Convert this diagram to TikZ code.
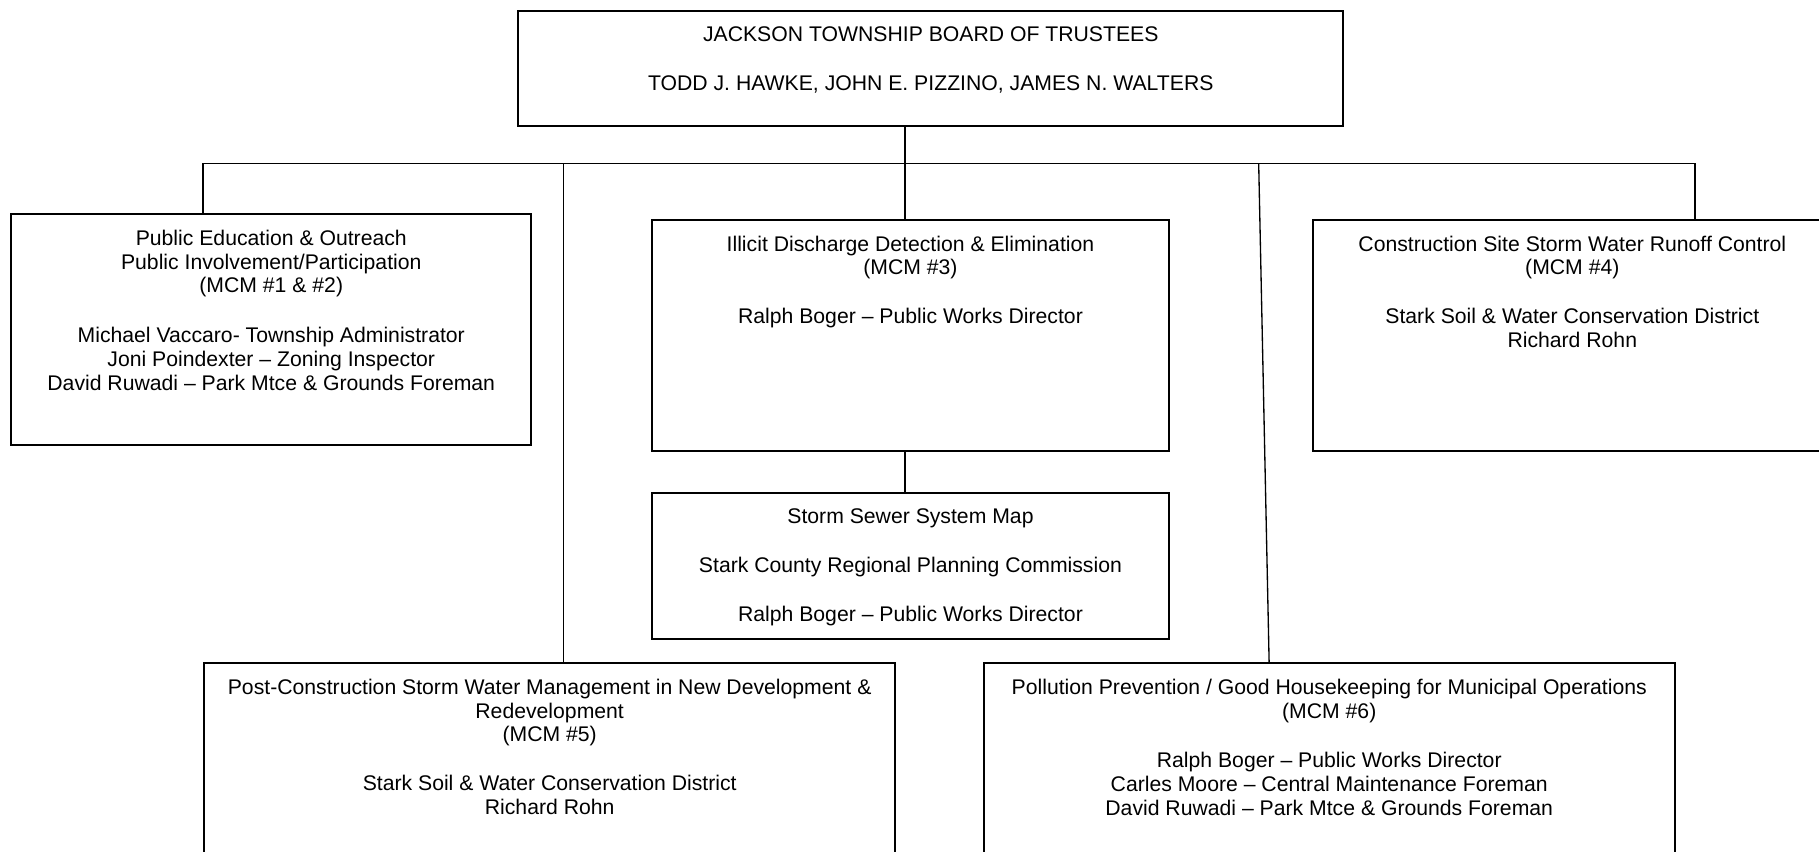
\documentclass[tikz,border=0pt]{standalone}
\usepackage{fontspec}
\setmainfont{Liberation Sans}
\usetikzlibrary{positioning}

\tikzset{
  box/.style={draw, line width=1pt, rectangle, anchor=north west, inner sep=0pt},
  txt/.style={align=center, inner sep=0pt, font=\fontsize{10.4}{11.6}\selectfont},
  link/.style={line width=0.65pt}
}

\begin{document}
\begin{tikzpicture}[x=0.02cm, y=-0.02cm]
    \useasboundingbox (0,0) rectangle (1568,734);

    % draw boxes
    \node[box, minimum width=14.22cm, minimum height=1.98cm] (board) at (446,9) {};
    \node[box, minimum width=8.96cm, minimum height=3.98cm] (peo) at (9,184) {};
    \node[box, minimum width=8.92cm, minimum height=3.98cm] (idde) at (561,189) {};
    \node[box, minimum width=8.92cm, minimum height=2.52cm] (ssm) at (561,424) {};
    \node[box, minimum width=8.94cm, minimum height=3.98cm] (cswr) at (1131,189) {};
    \node[box, minimum width=11.92cm, minimum height=3.98cm] (pcsw) at (175,571) {};
    \node[box, minimum width=11.92cm, minimum height=3.98cm] (pphk) at (847,571) {};

    % draw texts
    \node[txt, below=0.28cm] (board-t) at (board.north) {JACKSON TOWNSHIP BOARD OF TRUSTEES\\[12.4pt]
      TODD J. HAWKE, JOHN E. PIZZINO, JAMES N. WALTERS};
    \node[txt, below=0.28cm] (peo-t) at (peo.north) {Public Education \& Outreach\\
      Public Involvement/Participation\\ (MCM \#1 \& \#2)\\[13pt]
      Michael Vaccaro- Township Administrator\\ Joni Poindexter -- Zoning Inspector\\
      David Ruwadi -- Park Mtce \& Grounds Foreman};
    \node[txt, below=0.28cm] (idde-t) at (idde.north) {Illicit Discharge Detection \& Elimination\\
      (MCM \#3)\\[12.4pt] Ralph Boger -- Public Works Director};
    \node[txt, below=0.28cm] (ssm-t) at (ssm.north) {Storm Sewer System Map\\[12.4pt]
      Stark County Regional Planning Commission\\[12.4pt] Ralph Boger -- Public Works Director};
    \node[txt, below=0.28cm] (cswr-t) at (cswr.north) {Construction Site Storm Water Runoff Control\\
      (MCM \#4)\\[12.4pt] Stark Soil \& Water Conservation District\\ Richard Rohn};
    \node[txt, below=0.28cm] (pcsw-t) at (pcsw.north) {Post-Construction Storm Water Management in New Development \&\\
      Redevelopment\\ (MCM \#5)\\[12.4pt] Stark Soil \& Water Conservation District\\ Richard Rohn};
    \node[txt, below=0.28cm] (pphk-t) at (pphk.north) {Pollution Prevention / Good Housekeeping for Municipal Operations\\
      (MCM \#6)\\[12.8pt] Ralph Boger -- Public Works Director\\
      Carles Moore -- Central Maintenance Foreman\\ David Ruwadi -- Park Mtce \& Grounds Foreman};

    % draw lines
    \coordinate (trunk) at (780,141);
    \coordinate (busL) at (175,141);
    \coordinate (busR) at (1461,141);
    \coordinate (j5) at (486,141);
    \coordinate (j6) at (1085,141);
    \coordinate (j6end) at (1094,571);
    \draw[link] (trunk |- board.south) -- (trunk |- idde.north);
    \draw[link] (busL |- peo.north) -- (busL) -- (busR) -- (busR |- cswr.north);
    \draw[link] (j5) -- (j5 |- pcsw.north);
    \draw[link] (j6) -- (j6end);
    \draw[link] (trunk |- idde.south) -- (trunk |- ssm.north);
\end{tikzpicture}
\end{document}
